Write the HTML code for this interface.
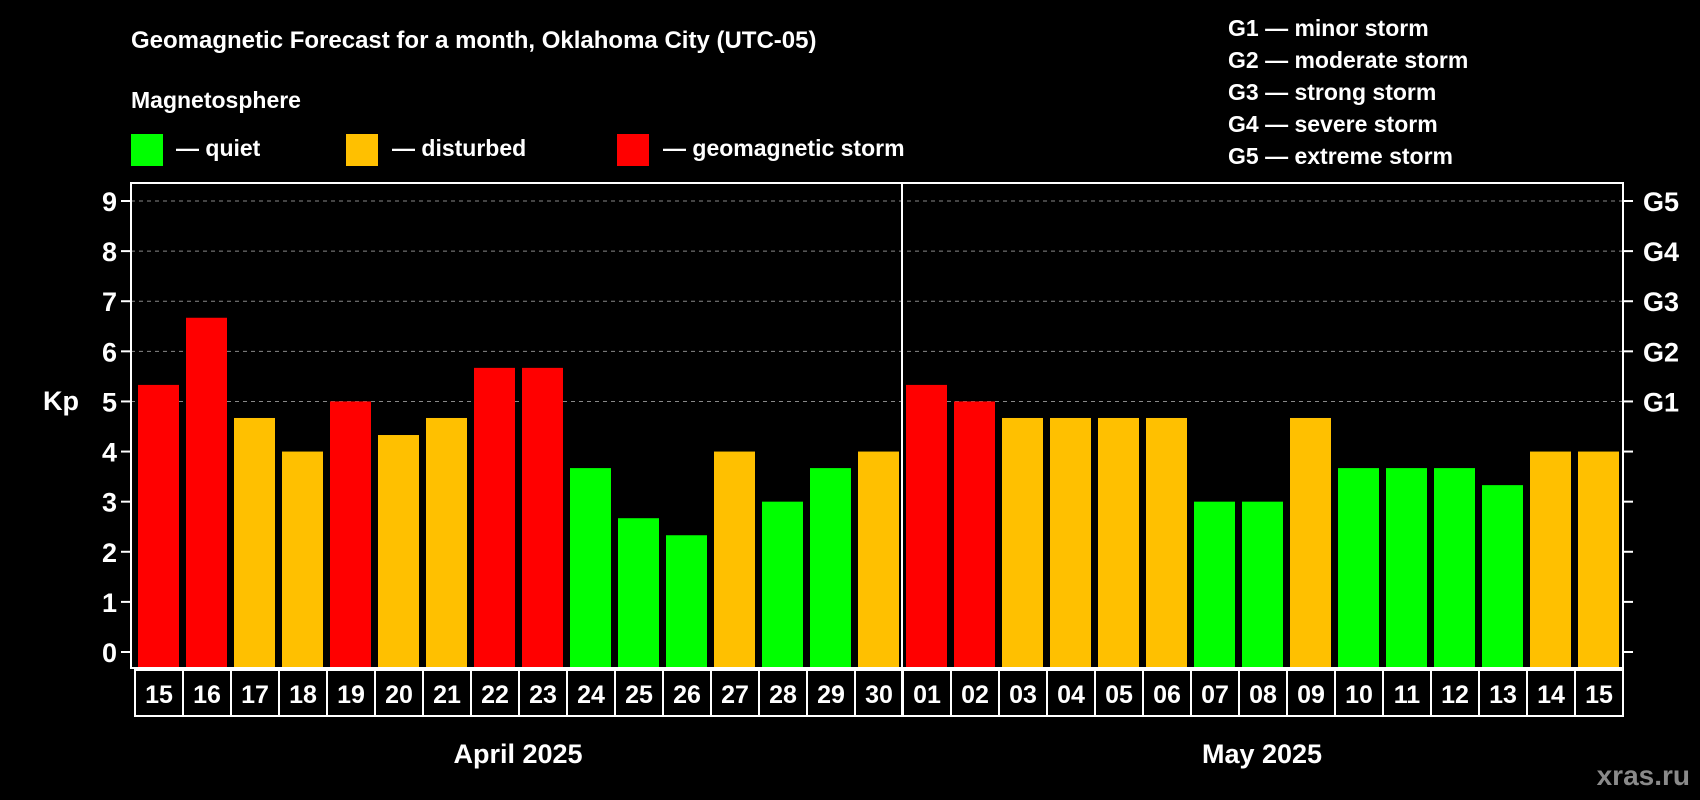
<!DOCTYPE html>
<html><head><meta charset="utf-8"><style>
html,body{margin:0;padding:0;background:#000;width:1700px;height:800px;overflow:hidden}
svg{display:block;font-family:"Liberation Sans",Arial,sans-serif;font-weight:bold}
</style></head><body>
<svg id="chart" width="1700" height="800" xmlns="http://www.w3.org/2000/svg">
<text x="131" y="48" fill="#fff" font-size="24">Geomagnetic Forecast for a month, Oklahoma City (UTC-05)</text>
<text x="131" y="108" fill="#fff" font-size="23">Magnetosphere</text>
<g><rect x="131" y="134" width="32" height="32" fill="#00ff00"/><text x="176" y="156" fill="#fff" font-size="23">— quiet</text></g>
<g><rect x="346" y="134" width="32" height="32" fill="#ffc000"/><text x="392" y="156" fill="#fff" font-size="23">— disturbed</text></g>
<g><rect x="617" y="134" width="32" height="32" fill="#ff0000"/><text x="663" y="156" fill="#fff" font-size="23">— geomagnetic storm</text></g>
<g fill="#fff" font-size="23">
<text x="1228" y="36">G1 — minor storm</text>
<text x="1228" y="68">G2 — moderate storm</text>
<text x="1228" y="100">G3 — strong storm</text>
<text x="1228" y="132">G4 — severe storm</text>
<text x="1228" y="164">G5 — extreme storm</text>
</g>
<text x="43" y="410" fill="#fff" font-size="27">Kp</text>
<g id="grid"></g><g id="bars"></g><g id="axes"></g>
<text x="518" y="763" fill="#fff" font-size="27" text-anchor="middle">April 2025</text>
<text x="1262" y="763" fill="#fff" font-size="27" text-anchor="middle">May 2025</text>
<text x="1690" y="785" fill="#8a8a8a" font-size="28" text-anchor="end">xras.ru</text>
</svg>
<script>
const days=["15","16","17","18","19","20","21","22","23","24","25","26","27","28","29","30","01","02","03","04","05","06","07","08","09","10","11","12","13","14","15"];
const kp=[5.33,6.67,4.67,4,5,4.33,4.67,5.67,5.67,3.67,2.67,2.33,4,3,3.67,4,5.33,5,4.67,4.67,4.67,4.67,3,3,4.67,3.67,3.67,3.67,3.33,4,4];
const yTicks=[0,1,2,3,4,5,6,7,8,9];
const gLabels=["G1","G2","G3","G4","G5"];
const gLevels=[5,6,7,8,9];
const NS="http://www.w3.org/2000/svg";
const L=131,R=1623,T=183,B=668,Y0=652,Y9=201;
const slot=(R-L-4)/days.length;
const y=v=>Y0-(Y0-Y9)*v/9;
const x=i=>L+4+i*slot;
function mk(t,a,p){const e=document.createElementNS(NS,t);for(const k in a)e.setAttribute(k,a[k]);p.appendChild(e);return e;}
const grid=document.getElementById('grid'),bars=document.getElementById('bars'),axes=document.getElementById('axes');
yTicks.forEach(v=>{
 if(v>=5){const g=mk('line',{x1:L,x2:R,y1:y(v),y2:y(v),stroke:'#888','stroke-dasharray':'4,4','stroke-width':1},grid);
 
 }
 mk('line',{x1:L-10,x2:L,y1:y(v),y2:y(v),stroke:'#fff','stroke-width':2},axes);
 mk('line',{x1:R,x2:R+10,y1:y(v),y2:y(v),stroke:'#fff','stroke-width':2},axes);
 const t=mk('text',{x:L-14,y:y(v)+10,fill:'#fff','font-size':27,'text-anchor':'end'},axes);t.textContent=v;
 
 
});
gLabels.forEach((g,i)=>{const t=mk('text',{x:R+20,y:y(gLevels[i])+10,fill:'#fff','font-size':27},axes);t.textContent=g;
 
 });
kp.forEach((v,i)=>{
 const c=v>=5?'#ff0000':v>=4?'#ffc000':'#00ff00';
 const r=mk('rect',{x:x(i)+3,y:y(v),width:slot-7,height:B-y(v),fill:c},bars);
 
 
 const cell=mk('rect',{x:x(i),y:B+2,width:slot,height:46,fill:'none',stroke:'#fff','stroke-width':2},axes);
 
 
 const t=mk('text',{x:x(i)+slot/2,y:B+35,fill:'#fff','font-size':25,'text-anchor':'middle'},axes);t.textContent=days[i];
 
 
});
const f=mk('rect',{x:L,y:T,width:R-L,height:B-T,fill:'none',stroke:'#fff','stroke-width':2},axes);


const d=mk('line',{x1:x(16)-1,x2:x(16)-1,y1:T,y2:B+48,stroke:'#fff','stroke-width':2},axes);


</script>
</body></html>
